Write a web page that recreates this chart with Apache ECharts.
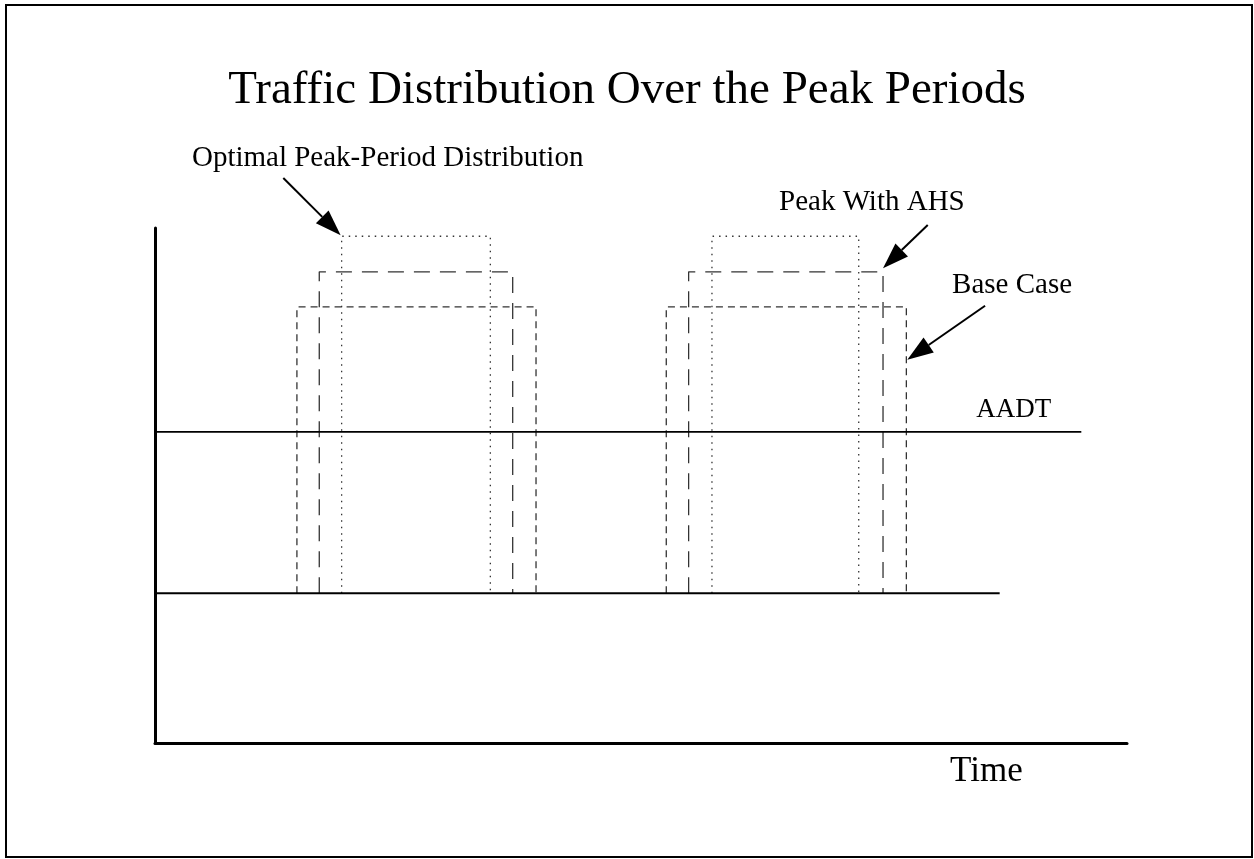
<!DOCTYPE html>
<html>
<head>
<meta charset="utf-8">
<title>Traffic Distribution Over the Peak Periods</title>
<script src="https://cdn.jsdelivr.net/npm/echarts@6/dist/echarts.min.js"></script>
<style>
  html, body { margin: 0; padding: 0; background: #fff; }
  #chart { width: 1254px; height: 859px; }
</style>
</head>
<body>
<div id="chart"></div>
<script>
// time runs 0..100 on x, traffic volume 0..100 on y
var baseLevel = 29.1;
var aadtLevel = 60.4;
var baseLineEnd = 86.9;
var aadtLineEnd = 95.3;

// peak windows [start, end] for the two peak periods, plus the plateau height
var baseCaseWindows = [[14.6, 39.2], [52.6, 77.3]];
var baseCaseTop = 84.7;
var ahsWindows = [[16.9, 36.8], [54.9, 74.9]];
var ahsTop = 91.5;
var optimalWindows = [[19.2, 34.5], [57.3, 72.4]];
var optimalTop = 98.4;

// callouts: [text, x, y]
var calloutLabels = [
  ['Optimal Peak-Period Distribution', 3.8, 113.6],
  ['Peak With AHS', 64.2, 104.9],
  ['Base Case', 82.0, 88.9]
];
// arrows: [fromX, fromY, toX, toY]
var calloutArrows = [
  [13.2, 109.7, 19.1, 98.6],
  [79.5, 100.6, 74.9, 92.2],
  [85.4, 84.9, 77.4, 74.4]
];
var aadtLabel = ['AADT', 84.5, 64.6];
var timeLabel = ['Time', 81.8, -5.6];

function windowPath(win, top) {
  return [[win[0], baseLevel], [win[0], top], [win[1], top], [win[1], baseLevel]];
}

function peakSeries(name, windows, top, dash, z) {
  return windows.map(function (w, i) {
    return {
      name: name + ' ' + (i + 1),
      type: 'line',
      data: windowPath(w, top),
      symbol: 'none',
      silent: true,
      z: z,
      lineStyle: { color: '#333', width: 1.3, type: dash }
    };
  });
}

var serif = '"Liberation Serif", "DejaVu Serif", serif';

var chart = echarts.init(document.getElementById('chart'));

var series = []
  .concat(peakSeries('Base Case', baseCaseWindows, baseCaseTop, [7, 5], 3))
  .concat(peakSeries('Peak With AHS', ahsWindows, ahsTop, [16, 10], 3))
  .concat(peakSeries('Optimal', optimalWindows, optimalTop, [1.5, 5], 3));

series.push({
  name: 'baseline',
  type: 'line',
  symbol: 'none',
  silent: true,
  z: 4,
  data: [[0, baseLevel], [baseLineEnd, baseLevel]],
  lineStyle: { color: '#000', width: 2, type: 'solid' }
});
series.push({
  name: 'AADT',
  type: 'line',
  symbol: 'none',
  silent: true,
  z: 4,
  data: [[0, aadtLevel], [aadtLineEnd, aadtLevel]],
  lineStyle: { color: '#000', width: 1.8, type: 'solid' }
});

series.push({
  name: 'arrows',
  type: 'custom',
  silent: true,
  clip: false,
  z: 5,
  data: calloutArrows,
  encode: { x: [0, 2], y: [1, 3] },
  renderItem: function (params, api) {
    var p1 = api.coord([api.value(0), api.value(1)]);
    var p2 = api.coord([api.value(2), api.value(3)]);
    var dx = p2[0] - p1[0], dy = p2[1] - p1[1];
    var len = Math.sqrt(dx * dx + dy * dy);
    var ux = dx / len, uy = dy / len;
    var headLen = 26, headHalf = 9;
    var bx = p2[0] - ux * headLen, by = p2[1] - uy * headLen;
    return {
      type: 'group',
      children: [
        {
          type: 'line',
          shape: { x1: p1[0], y1: p1[1], x2: bx, y2: by },
          style: { stroke: '#000', lineWidth: 2 }
        },
        {
          type: 'polygon',
          shape: {
            points: [
              [p2[0], p2[1]],
              [bx - uy * headHalf, by + ux * headHalf],
              [bx + uy * headHalf, by - ux * headHalf]
            ]
          },
          style: { fill: '#000' }
        }
      ]
    };
  }
});

function textSeries(name, items, size) {
  return {
    name: name,
    type: 'scatter',
    symbolSize: 0,
    silent: true,
    clip: false,
    z: 6,
    itemStyle: { opacity: 1 },
    data: items.map(function (t) { return { name: t[0], value: [t[1], t[2]] }; }),
    label: {
      show: true,
      position: [0, 0],
      align: 'left',
      verticalAlign: 'middle',
      formatter: '{b}',
      color: '#000',
      opacity: 1,
      fontFamily: serif,
      fontSize: size
    }
  };
}
series.push(textSeries('callouts', calloutLabels, 29));
series.push(textSeries('aadt', [aadtLabel], 27));
series.push(textSeries('time', [timeLabel], 35));

chart.setOption({
  animation: false,
  backgroundColor: '#fff',
  title: {
    text: 'Traffic Distribution Over the Peak Periods',
    left: 'center',
    top: 62,
    textStyle: { fontFamily: serif, fontWeight: 'normal', fontSize: 47, color: '#000' }
  },
  graphic: [{
    type: 'rect',
    shape: { x: 6, y: 5, width: 1246, height: 852 },
    style: { fill: 'none', stroke: '#000', lineWidth: 2 },
    silent: true
  }],
  grid: { left: 155, right: 127, top: 228, bottom: 116 },
  xAxis: {
    type: 'value',
    min: 0,
    max: 100,
    axisLine: { show: true, lineStyle: { color: '#000', width: 3 } },
    axisTick: { show: false },
    axisLabel: { show: false },
    splitLine: { show: false }
  },
  yAxis: {
    type: 'value',
    min: 0,
    max: 100,
    axisLine: { show: true, lineStyle: { color: '#000', width: 3 } },
    axisTick: { show: false },
    axisLabel: { show: false },
    splitLine: { show: false }
  },
  series: series
});
</script>
</body>
</html>
